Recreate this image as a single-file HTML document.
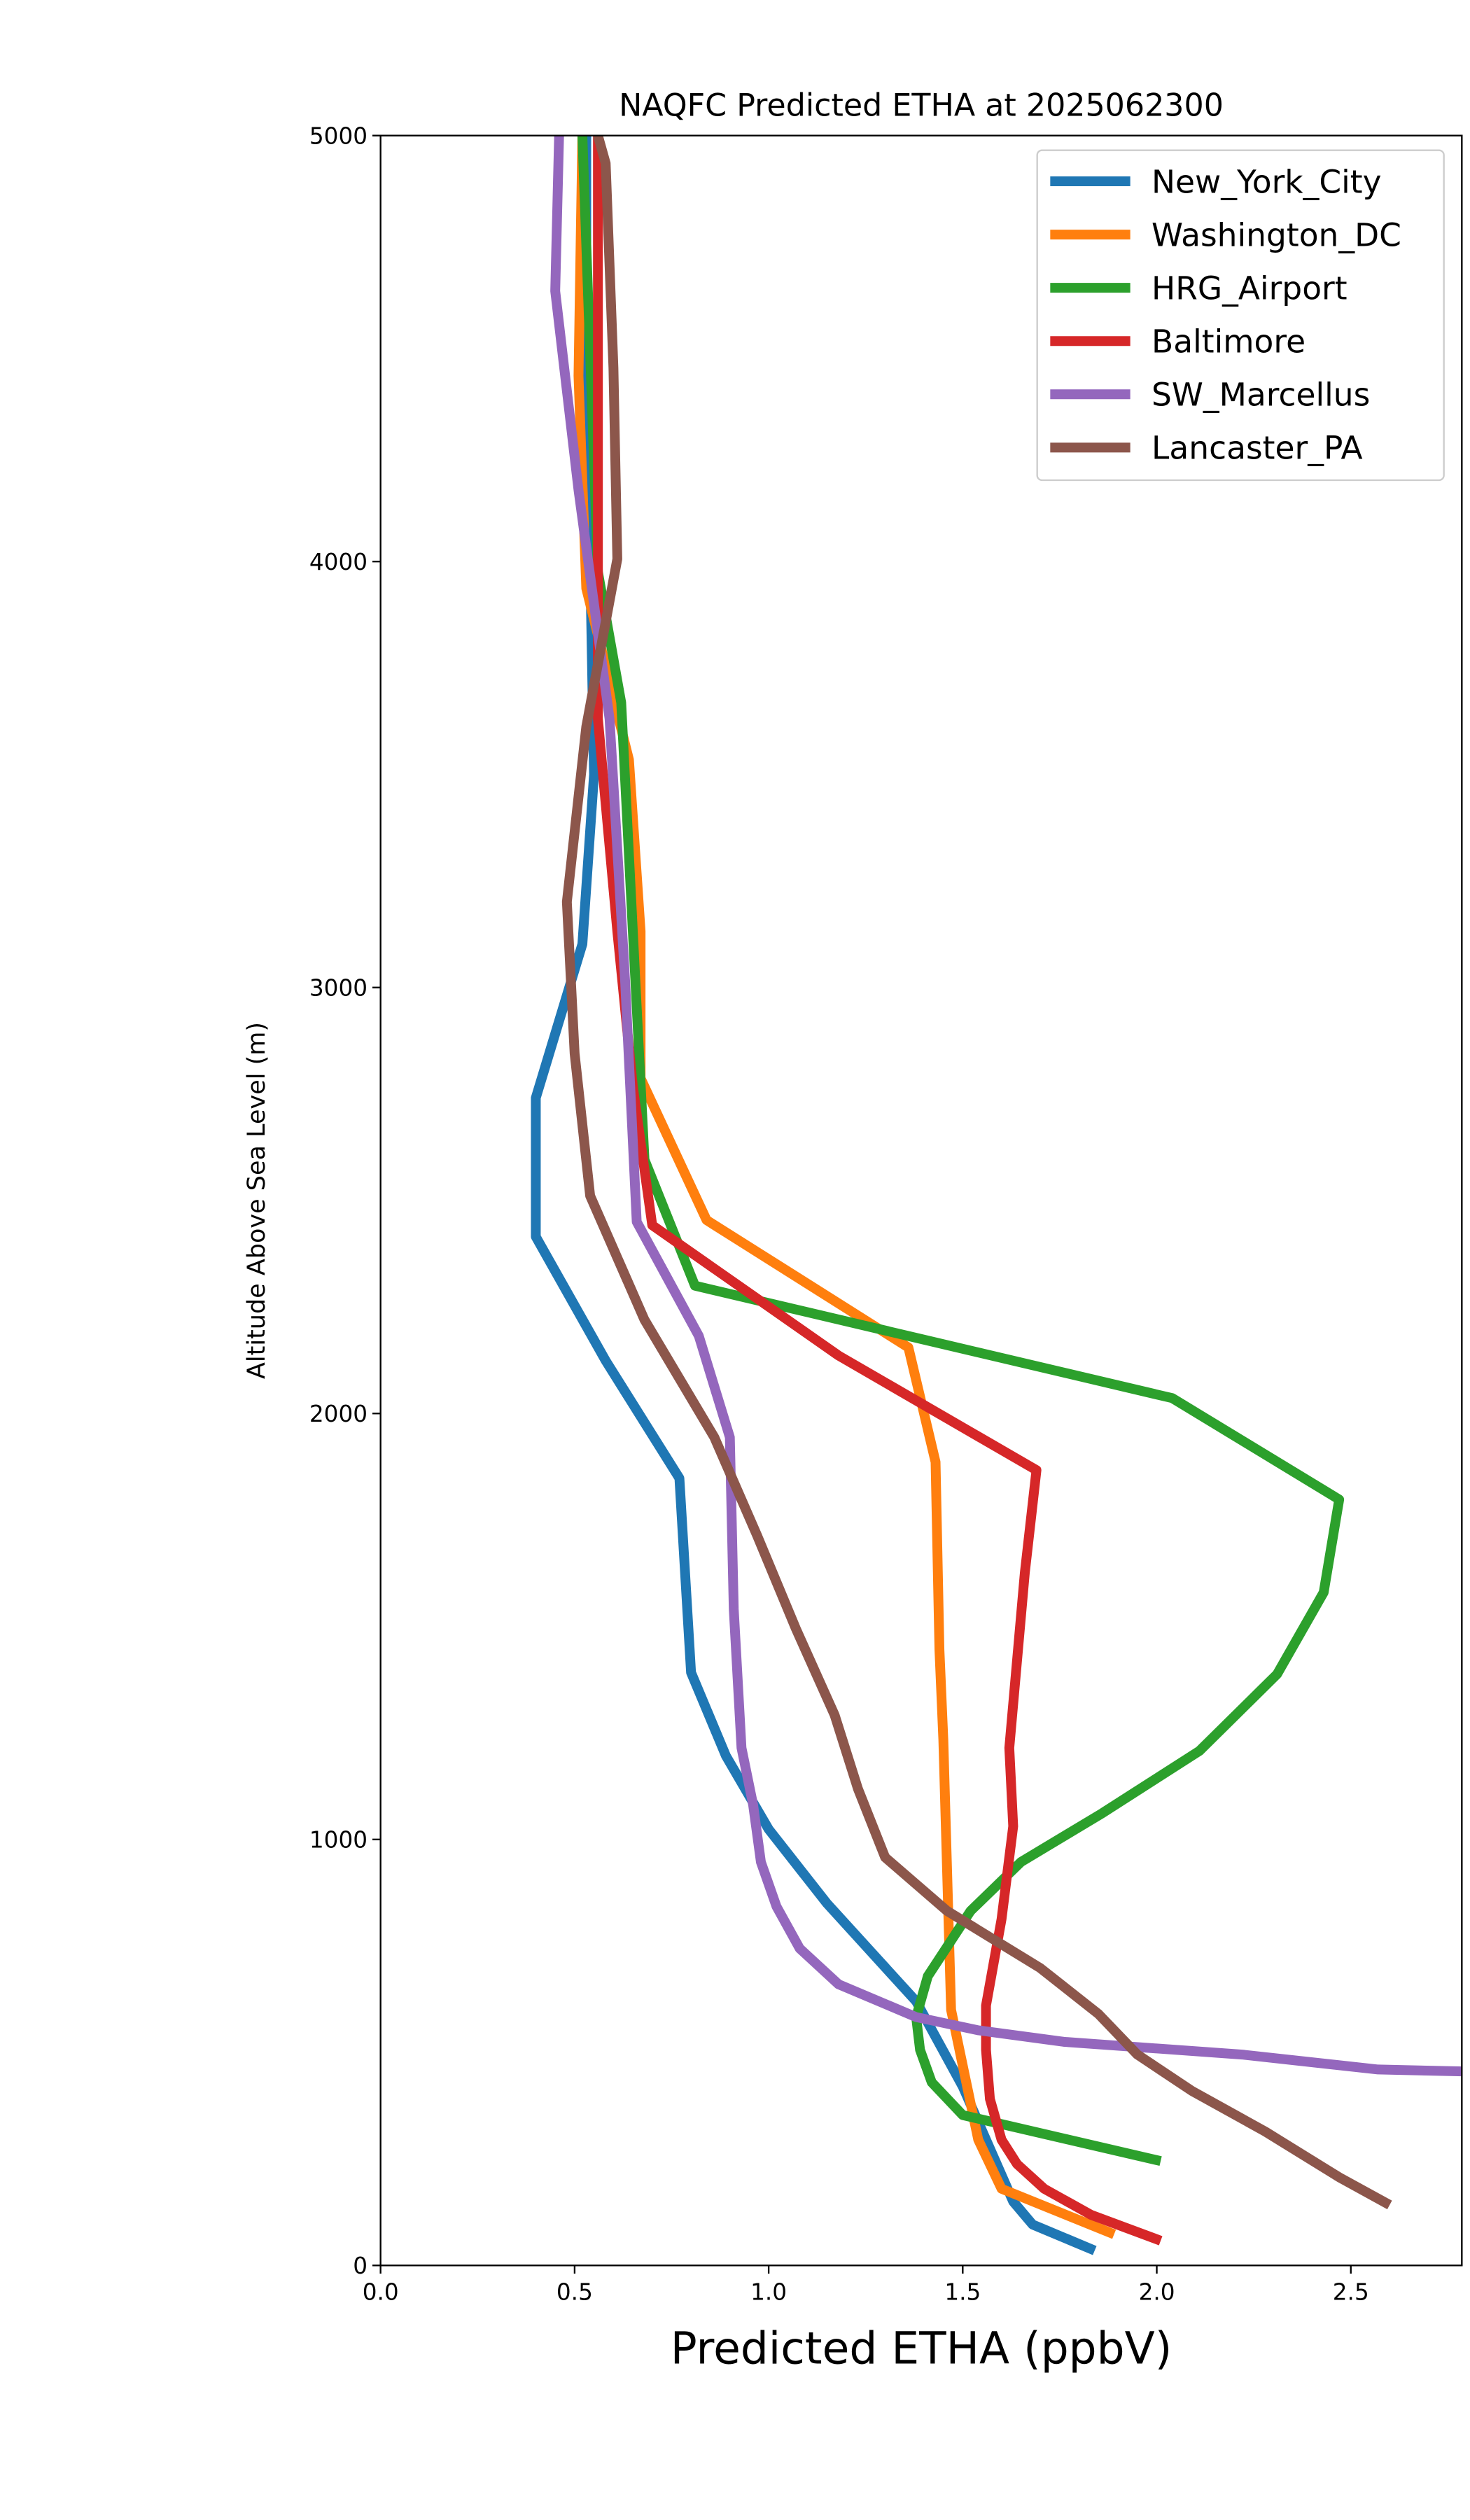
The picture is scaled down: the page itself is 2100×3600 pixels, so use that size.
<!DOCTYPE html>
<html><head><meta charset="utf-8"><style>
html,body{margin:0;padding:0;background:#fff;}
svg{display:block;font-family:"DejaVu Sans","Liberation Sans",sans-serif;}
</style></head><body>
<svg id="chart" width="2100" height="3600" viewBox="0 0 900 1542.857" xmlns="http://www.w3.org/2000/svg">
<rect width="900" height="1543" fill="#fff"/>
<g id="plot"></g>
</svg>
<script>
const seriesNames = ["New_York_City","Washington_DC","HRG_Airport","Baltimore","SW_Marcellus","Lancaster_PA"];
const seriesColors = ["#1f77b4","#ff7f0e","#2ca02c","#d62728","#9467bd","#8c564b"];
const nycX = [1.84,1.68,1.63,1.5,1.38,1.15,1.0,0.89,0.80,0.77,0.58,0.40,0.40,0.52,0.55,0.54,0.53,0.53];
const nycY = [35,96,150,420,620,850,1024,1196,1392,1848,2124,2415,2741,3102,3500,4000,4500,5000];
const dcX = [1.89,1.60,1.54,1.47,1.45,1.44,1.43,1.36,0.84,0.67,0.67,0.64,0.53,0.51,0.52];
const dcY = [73,180,295,600,1235,1445,1886,2155,2454,2787,3132,3535,3937,4436,5000];
const hrgX = [2.01,1.50,1.42,1.39,1.38,1.41,1.52,1.65,1.86,2.11,2.31,2.43,2.47,2.04,0.81,0.68,0.62,0.56,0.52];
const hrgY = [245,353,430,506,583,679,832,947,1062,1208,1388,1580,1798,2036,2300,2596,3669,3976,5000];
const balX = [2.01,1.83,1.71,1.64,1.60,1.57,1.56,1.56,1.60,1.63,1.62,1.66,1.69,1.18,0.70,0.65,0.61,0.56,0.56,0.56];
const balY = [58,119,180,238,295,391,506,610,813,1031,1215,1626,1867,2136,2442,2768,3132,3631,4436,5000];
const swmX = [2.95,2.57,2.22,1.76,1.54,1.38,1.18,1.08,1.02,0.98,0.96,0.93,0.91,0.90,0.82,0.66,0.63,0.59,0.51,0.45,0.46];
const swmY = [452,460,495,525,552,583,660,744,843,947,1081,1215,1541,1944,2182,2450,3017,3631,4168,4635,5000];
const lanX = [2.60,2.47,2.28,2.09,1.95,1.85,1.70,1.46,1.30,1.23,1.17,1.07,0.97,0.86,0.68,0.54,0.50,0.48,0.53,0.61,0.60,0.58,0.56];
const lanY = [142,207,314,410,495,590,698,832,958,1119,1292,1495,1714,1944,2220,2511,2845,3201,3612,4006,4455,4935,5000];
const xTicks = [0,0.5,1.0,1.5,2.0,2.5];
const xTickLabels = ["0.0","0.5","1.0","1.5","2.0","2.5"];
const yTicks = [0,1000,2000,3000,4000,5000];
const yTickLabels = ["0","1000","2000","3000","4000","5000"];
const allX = [nycX,dcX,hrgX,balX,swmX,lanX];
const allY = [nycY,dcY,hrgY,balY,swmY,lanY];

const L=233,R=895,T=83,B=1387, XMAX=2.786, YMAX=5000;
const sx = v => L + v/XMAX*(R-L);
const sy = v => B - v/YMAX*(B-T);
const NS="http://www.w3.org/2000/svg";
const g=document.getElementById('plot');
function mk(tag,attrs,parent){const e=document.createElementNS(NS,tag);for(const k in attrs)e.setAttribute(k,attrs[k]);(parent||g).appendChild(e);return e;}

const defs=mk('defs',{});
const cp=mk('clipPath',{id:'clip'},defs);
mk('rect',{x:L,y:T,width:R-L,height:B-T},cp);
const lines=mk('g',{'clip-path':'url(#clip)'});
for(let i=0;i<seriesNames.length;i++){
  const pts=allX[i].map((x,j)=>sx(x).toFixed(2)+','+sy(allY[i][j]).toFixed(2)).join(' ');
  const pl=mk('polyline',{points:pts,fill:'none',stroke:seriesColors[i],'stroke-width':6,'stroke-linejoin':'round','stroke-linecap':'butt'},lines);
  
  
}
const frame=mk('rect',{x:L,y:T,width:R-L,height:B-T,fill:'none',stroke:'#000','stroke-width':1});



xTicks.forEach((v,i)=>{
  const x=sx(v);
  mk('line',{x1:x,y1:B,x2:x,y2:B+5,stroke:'#000','stroke-width':1});
  const t=mk('text',{x:x,y:B+21,'font-size':14,'text-anchor':'middle',fill:'#000'});
  t.textContent=xTickLabels[i];
  
  
});
yTicks.forEach((v,i)=>{
  const y=sy(v);
  mk('line',{x1:L-5,y1:y,x2:L,y2:y,stroke:'#000','stroke-width':1});
  const t=mk('text',{x:L-8,y:y+5,'font-size':14,'text-anchor':'end',fill:'#000'});
  t.textContent=yTickLabels[i];
  
  
});
let t=mk('text',{x:(L+R)/2-0,y:71,'font-size':19,'text-anchor':'middle',fill:'#000'});
t.textContent='NAQFC Predicted ETHA at 2025062300';


t=mk('text',{x:564,y:1447,'font-size':27,'text-anchor':'middle',fill:'#000'});
t.textContent='Predicted ETHA (ppbV)';


t=mk('text',{x:0,y:0,'font-size':15,'text-anchor':'middle',fill:'#000',transform:'translate(162,735) rotate(-90)'});
t.textContent='Altitude Above Sea Level (m)';



const lg=mk('g',{});


mk('rect',{x:635,y:92,width:249,height:202,rx:3,fill:'#fff','fill-opacity':0.8,stroke:'#ccc','stroke-width':1},lg);
seriesNames.forEach((n,i)=>{
  const y=111+i*32.6;
  const e=mk('g',{},lg);
  
  
  mk('line',{x1:643,y1:y,x2:692,y2:y,stroke:seriesColors[i],'stroke-width':6},e);
  const tx=mk('text',{x:705,y:y+7,'font-size':19.5,fill:'#000'},e);
  tx.textContent=n;
});
</script>
</body></html>
